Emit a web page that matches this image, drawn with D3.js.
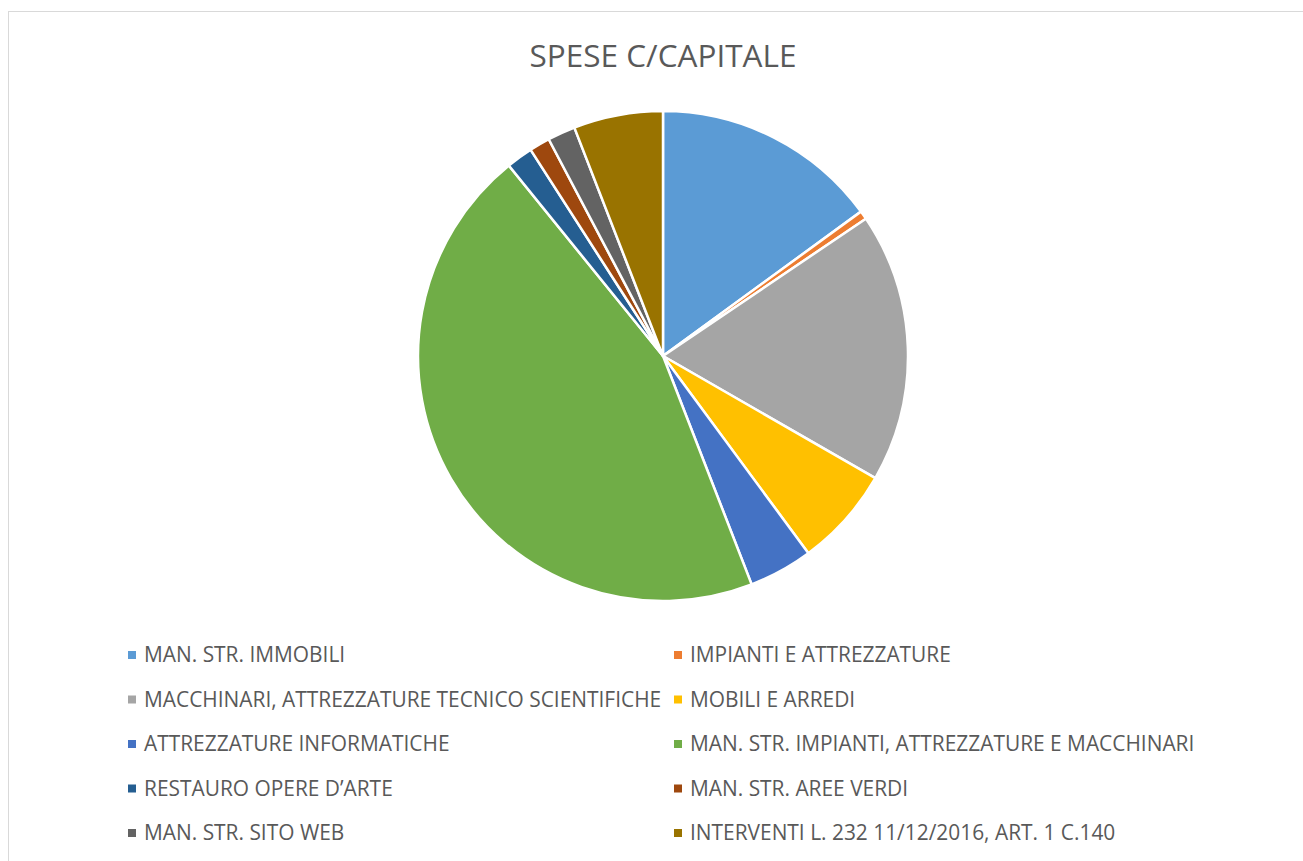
<!DOCTYPE html>
<html>
<head>
<meta charset="utf-8">
<script src="https://cdn.jsdelivr.net/npm/d3@7"></script>
<style>
  body { margin: 0; background: #fff; }
  svg { display: block; }
  text { font-family: "Open Sans", "Noto Sans", sans-serif; fill: #595959; }
</style>
</head>
<body>
<svg id="chart" width="1303" height="861"></svg>
<script>
// data
const categories = [
  "MAN. STR. IMMOBILI",
  "IMPIANTI E ATTREZZATURE",
  "MACCHINARI, ATTREZZATURE TECNICO SCIENTIFICHE",
  "MOBILI E ARREDI",
  "ATTREZZATURE INFORMATICHE",
  "MAN. STR. IMPIANTI, ATTREZZATURE E MACCHINARI",
  "RESTAURO OPERE D\u2019ARTE",
  "MAN. STR. AREE VERDI",
  "MAN. STR. SITO WEB",
  "INTERVENTI L. 232 11/12/2016, ART. 1 C.140"
];
const values = [14.97, 0.56, 17.78, 6.58, 4.22, 45.06, 1.75, 1.36, 1.83, 5.89];
const colors = ["#5B9BD5", "#ED7D31", "#A5A5A5", "#FFC000", "#4472C4",
                "#70AD47", "#255E91", "#9E480E", "#636363", "#997300"];

const svg = d3.select("#chart");

// chart border
svg.append("rect")
  .attr("x", 8.5).attr("y", 11.5)
  .attr("width", 1310).attr("height", 870)
  .attr("fill", "none")
  .attr("stroke", "#d9d9d9")
  .attr("stroke-width", 1);

// title
svg.append("text")
  .attr("x", 663).attr("y", 67)
  .attr("text-anchor", "middle")
  .style("font-size", "31.5px")
  .text("SPESE C/CAPITALE");

// pie
const cx = 663, cy = 356, radius = 245;
const pie = d3.pie().sort(null).value(d => d.v);
const arc = d3.arc().innerRadius(0).outerRadius(radius);
const data = categories.map((c, i) => ({ name: c, v: values[i], color: colors[i] }));

svg.append("g")
  .attr("transform", `translate(${cx},${cy})`)
  .selectAll("path")
  .data(pie(data))
  .enter()
  .append("path")
  .attr("d", arc)
  .attr("fill", d => d.data.color)
  .attr("stroke", "#fff")
  .attr("stroke-width", 2.5)
  .attr("stroke-linejoin", "round");

// legend, two columns
const colX = [128, 674];
const rowY = d3.scaleLinear().domain([0, 4]).range([655, 833]);

const items = svg.append("g")
  .selectAll("g")
  .data(data)
  .enter()
  .append("g")
  .attr("transform", (d, i) => `translate(${colX[i % 2]},${rowY(Math.floor(i / 2))})`);

items.append("rect")
  .attr("x", 0).attr("y", -4)
  .attr("width", 8).attr("height", 8)
  .attr("fill", d => d.color);

items.append("text")
  .attr("x", 16).attr("y", 0)
  .attr("dy", "0.35em")
  .style("font-size", "20.9px")
  .text(d => d.name);
</script>
</body>
</html>
